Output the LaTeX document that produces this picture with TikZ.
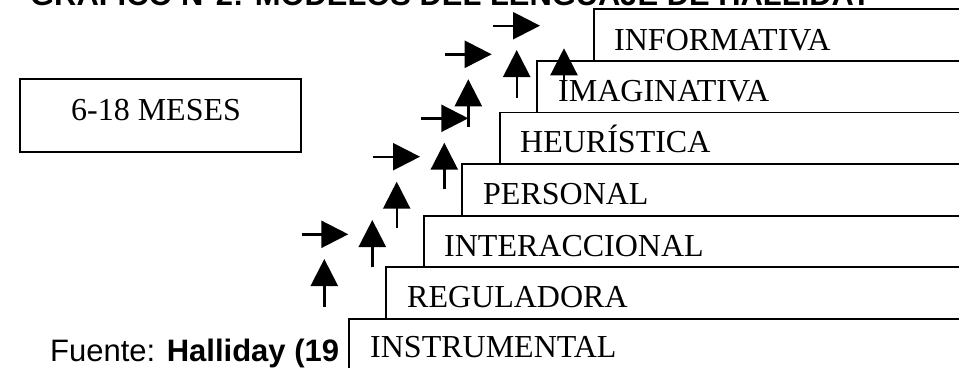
\documentclass[tikz,border=0pt]{standalone}
\usepackage{fontspec}
\setmainfont{Liberation Serif}
\newfontfamily\arialfont{Liberation Sans}
\usetikzlibrary{arrows.meta}
\begin{document}
\begin{tikzpicture}[x=1pt,y=-1pt,
  boxline/.style={draw=black,line width=1.7pt,fill=white},
  lbl/.style={anchor=base west,inner sep=0pt,font=\fontsize{32}{36}\selectfont},
  arr/.style={line width=2.4pt,-{Triangle[length=27pt,width=27pt]}},
  sanstext/.style={anchor=base west,inner sep=0pt,font=\arialfont\fontsize{31}{36}\selectfont}
]
\useasboundingbox (0,0) rectangle (959,367);
% title (cut off at top, as in the reference)
\node[sanstext,font=\arialfont\bfseries\fontsize{30.9}{36}\selectfont] (title) at (30,5) {GRÁFICO N°2: MODELOS DEL LENGUAJE DE HALLIDAY};
% 6-18 meses box
\draw[boxline] (20,79) rectangle (301,152);
\node[anchor=base,inner sep=0pt,font=\fontsize{32}{36}\selectfont] (meses) at (156,120.7) {6-18 MESES};
% source
\node[sanstext] (fuente) at (50,361) {Fuente: \textbf{Halliday (19}};
% staircase boxes
\draw[boxline] (594,9.3) rectangle (975,60.9);
\draw[boxline] (537,60.9) rectangle (975,112.5);
\draw[boxline] (500,112.5) rectangle (975,164.1);
\draw[boxline] (462,164.1) rectangle (975,215.7);
\draw[boxline] (424,215.7) rectangle (975,267.3);
\draw[boxline] (386,267.3) rectangle (975,318.9);
\draw[boxline] (349,318.9) rectangle (975,380);
\node[lbl] (informativa) at (614,50) {INFORMATIVA};
\node[lbl] (imaginativa) at (558,101.2) {IMAGINATIVA};
\node[lbl] (heuristica) at (520,152.8) {HEURÍSTICA};
\node[lbl] (personal) at (483,204.4) {PERSONAL};
\node[lbl] (interaccional) at (444,256) {INTERACCIONAL};
\node[lbl] (reguladora) at (407,307.6) {REGULADORA};
\node[lbl] (instrumental) at (370,357.7) {INSTRUMENTAL};
% right arrows
\draw[arr] (493,25.7) -- (540,25.7);
\draw[arr] (445,54.3) -- (491.7,54.3);
\draw[arr] (421,118.3) -- (468.3,118.3);
\draw[arr] (373.3,156.7) -- (420,156.7);
\draw[arr] (301.7,234.3) -- (348.3,234.3);
% up arrows
\draw[arr] (516.7,97.7) -- (516.7,50);
\draw[arr] (564,98.3) -- (564,48.3);
\draw[arr] (468.3,126.7) -- (468.3,79.3);
\draw[arr] (444.3,189.3) -- (444.3,142.7);
\draw[arr] (396.7,228.3) -- (396.7,181.7);
\draw[arr] (372.3,267.3) -- (372.3,220);
\draw[arr] (324.3,306.7) -- (324.3,259);
\end{tikzpicture}
\end{document}
